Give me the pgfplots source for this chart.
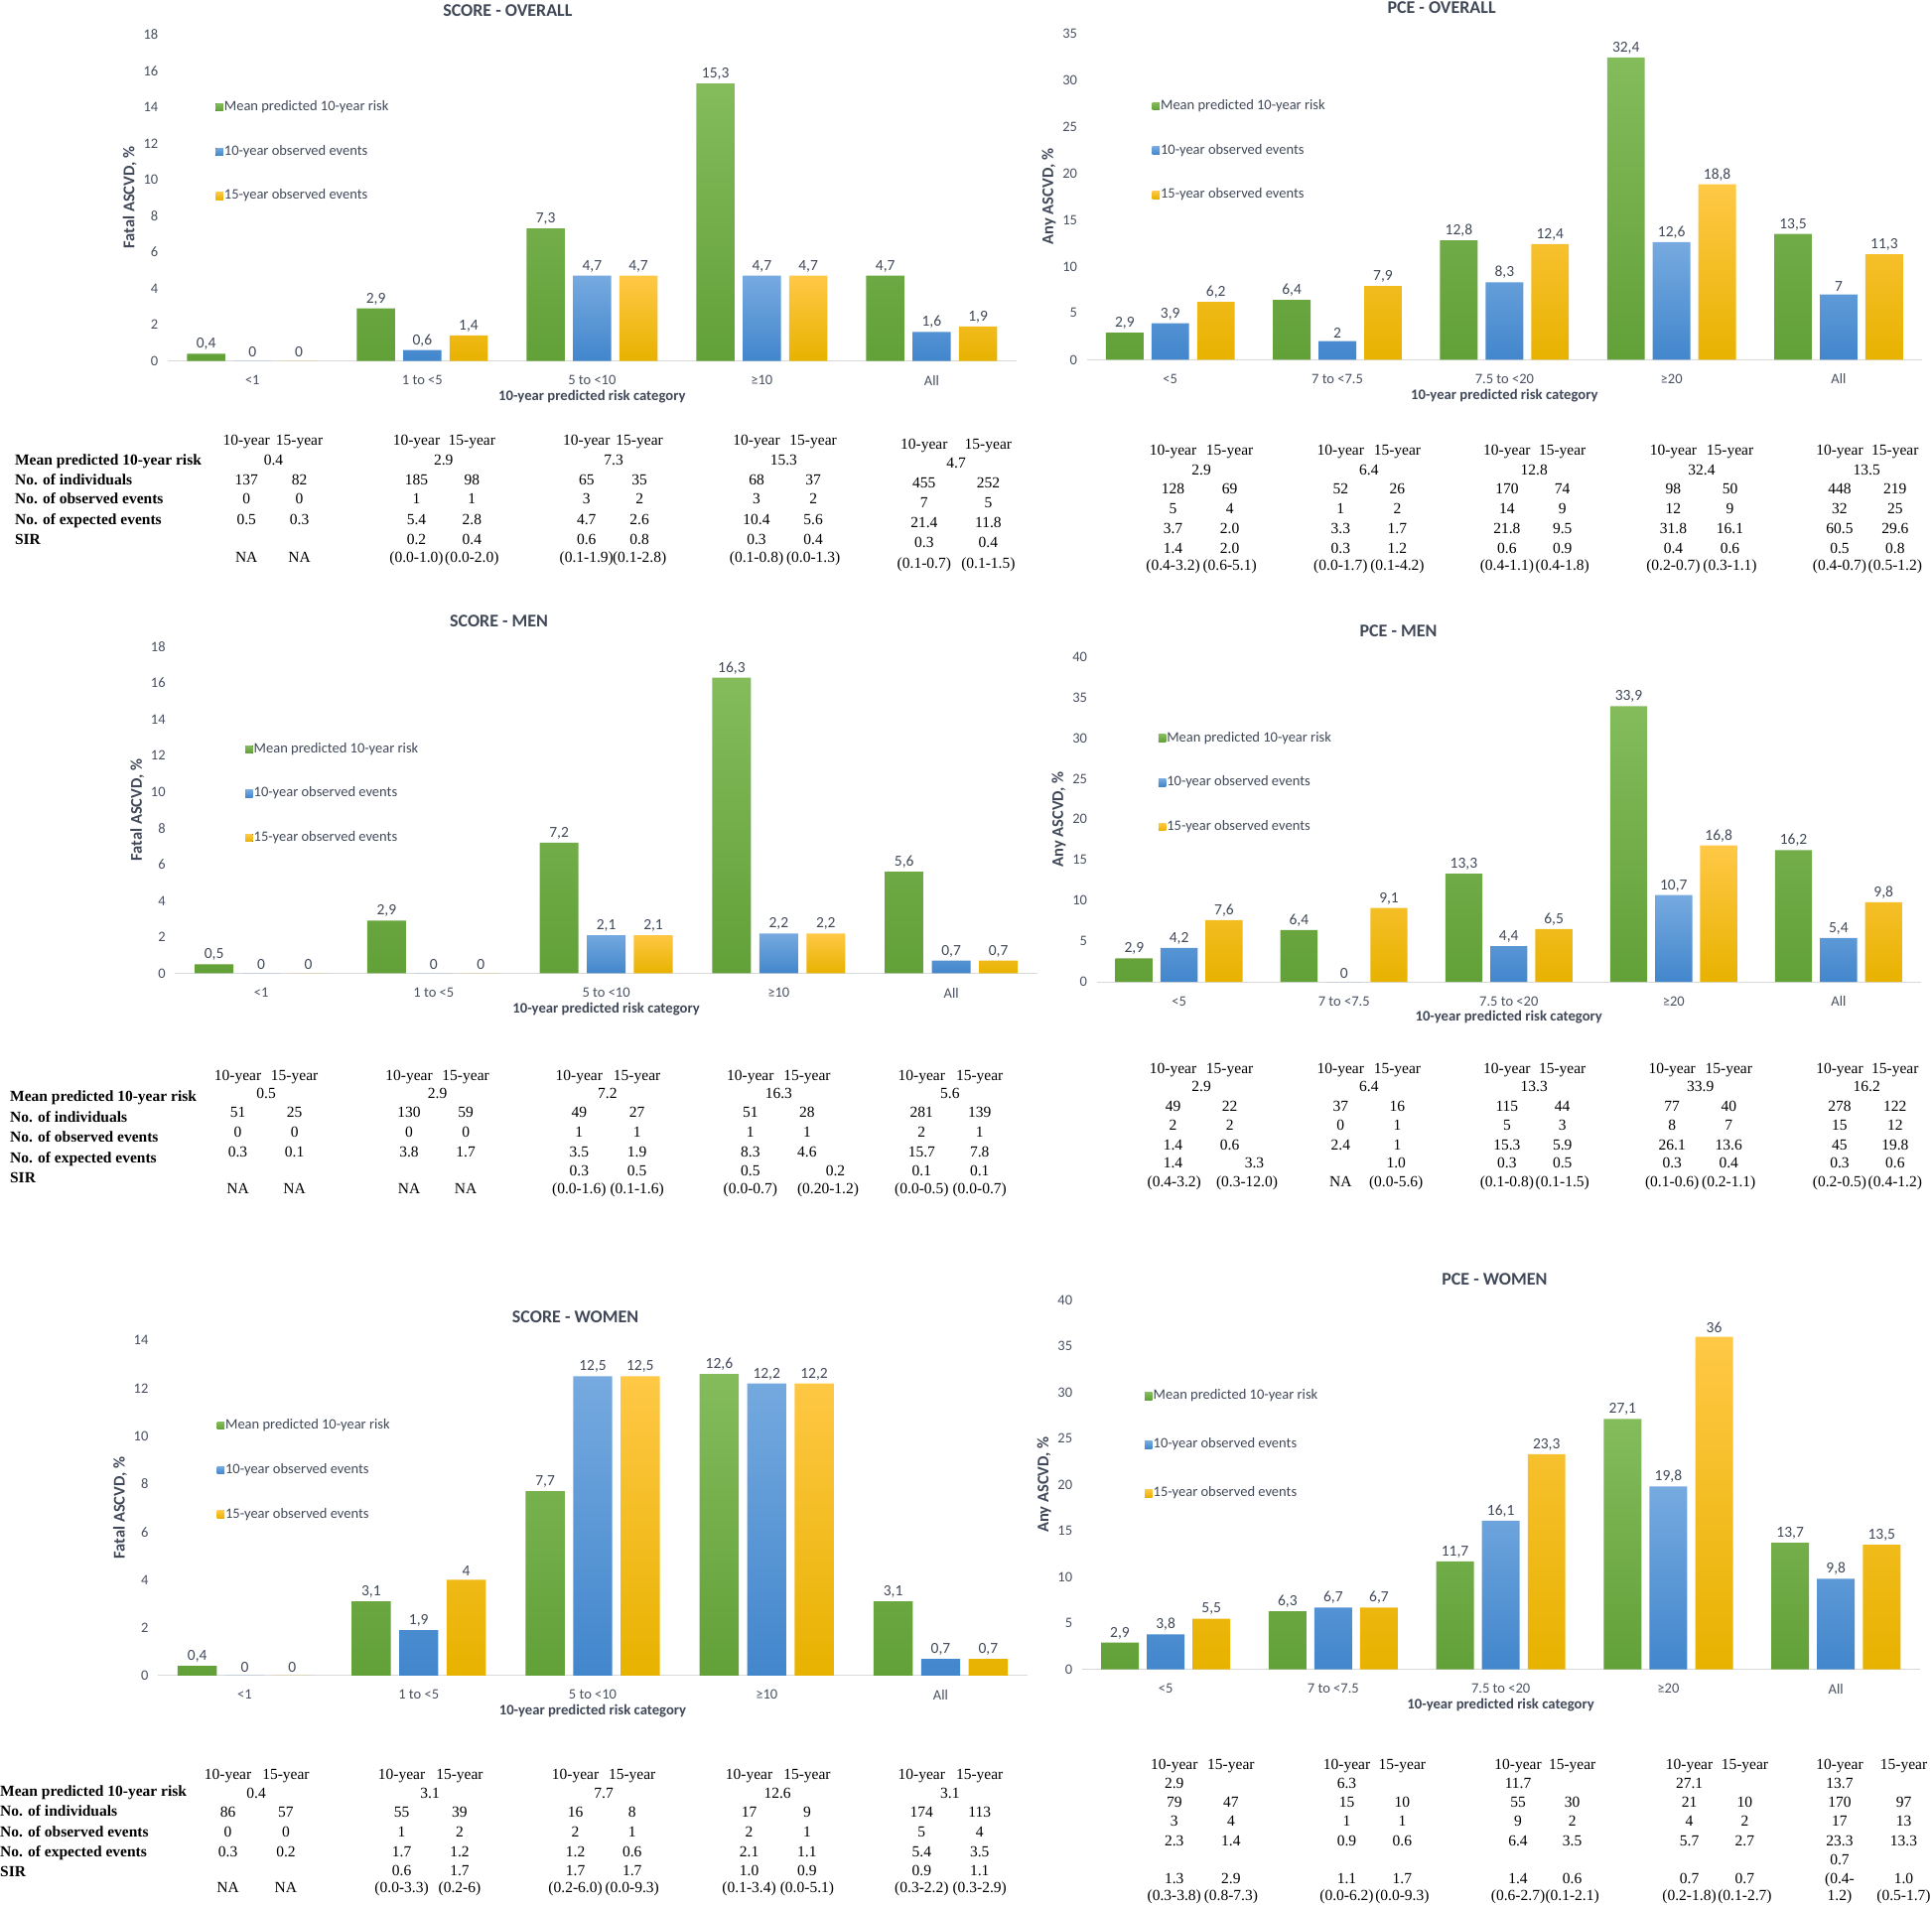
\documentclass[border=0pt]{standalone}
\usepackage{fontspec}
\setmainfont{Carlito}
\newfontfamily\tnr{Liberation Serif}
\usepackage{pgfplots}
\pgfplotsset{compat=1.18}

\definecolor{gT}{RGB}{132,188,92}
\definecolor{gB}{RGB}{98,160,56}
\definecolor{bT}{RGB}{118,170,224}
\definecolor{bB}{RGB}{66,134,204}
\definecolor{yT}{RGB}{255,200,70}
\definecolor{yB}{RGB}{232,178,0}
\definecolor{txt}{RGB}{72,80,96}
\definecolor{dark}{RGB}{64,72,88}
\definecolor{axl}{RGB}{217,217,217}

\pgfplotsset{
  panel/.style={
    scale only axis, anchor=south west,
    xmin=-0.5, xmax=4.5, ymin=0,
    xtick={0,...,4},
    axis x line*=bottom, axis y line*=left,
    x axis line style={draw=axl, line width=0.8pt},
    y axis line style={draw=none},
    major tick length=0pt,
    tick style={draw=none},
    ticklabel style={font=\fontsize{14.5}{16}\selectfont, text=txt},
    yticklabel style={xshift=-6pt},
    xticklabel style={yshift=-11pt},
    /pgf/number format/assume math mode=true,
    /pgf/number format/use comma,
    xlabel={10-year predicted risk category},
    xlabel style={font=\fontsize{14.7}{16}\selectfont\bfseries, text=dark, yshift=2pt},
    ylabel style={font=\fontsize{16.5}{18}\selectfont\bfseries, text=dark},
    title style={font=\fontsize{18}{20}\selectfont\bfseries, text=dark, at={(0.5,1)}, anchor=center},
    nodes near coords,
    every node near coord/.append style={font=\fontsize{15.5}{17}\selectfont, text=dark},
    legend cell align=left,
    legend style={draw=none, fill=none, at={(0,1)}, anchor=north west, inner sep=0pt,
      font=\fontsize{14.5}{16}\selectfont, text=dark,
      nodes={inner sep=1pt, text height=10pt, text depth=3pt}},
    legend image code/.code={\fill[##1] (0pt,-3.75pt) rectangle (7.5pt,3.75pt);},
  },
  gbar/.style={ybar, bar width=0.225, bar shift=-0.273, draw=none, top color=gT, bottom color=gB,
    every node near coord/.append style={shift={(axis direction cs:-0.273,0)}}},
  bbar/.style={ybar, bar width=0.225, bar shift=0, draw=none, top color=bT, bottom color=bB},
  obar/.style={ybar, bar width=0.225, bar shift=0.273, draw=none, top color=yT, bottom color=yB,
    every node near coord/.append style={shift={(axis direction cs:0.273,0)}}},
}

\tikzset{tbl/.style={font=\tnr\fontsize{15.5}{18}\selectfont, inner sep=0pt, anchor=center, text height=10.5pt, text depth=0pt},
  tlab/.style={tbl, anchor=west, font=\tnr\fontsize{15.5}{18}\selectfont\bfseries}}
\newcommand{\trow}[2]{\foreach \x/\t in {#2} {\node[tbl] at ({\x*1.2411pt},{1919pt-#1*1.2411pt}) {\t};}}
\newcommand{\tlabs}[6]{%
  \node[tlab] at ({#1*1.2411pt},{1919pt-#2*1.2411pt}) {Mean predicted 10-year risk};
  \node[tlab] at ({#1*1.2411pt},{1919pt-#3*1.2411pt}) {No. of individuals};
  \node[tlab] at ({#1*1.2411pt},{1919pt-#4*1.2411pt}) {No. of observed events};
  \node[tlab] at ({#1*1.2411pt},{1919pt-#5*1.2411pt}) {No. of expected events};
  \node[tlab] at ({#1*1.2411pt},{1919pt-#6*1.2411pt}) {SIR};}

\begin{document}
\begin{tikzpicture}
\path[use as bounding box] (0pt,0pt) rectangle (1946pt,1919pt);

% ---------------- SCORE - OVERALL
\begin{axis}[panel, at={(168.8pt,1555.4pt)}, width=855.1pt, height=328.9pt,
  ymax=18, ytick={0,2,...,18},
  xticklabels={<1,1 to <5,5 to <10,≥10,All},
  ylabel={Fatal ASCVD, \%}, title={SCORE - OVERALL},
  title style={xshift=-85pt, yshift=18.5pt},
  legend style={xshift=48.4pt, yshift=-65.7pt, row sep=29.7pt}]
\addplot[gbar] coordinates {(0,0.4) (1,2.9) (2,7.3) (3,15.3) (4,4.7)};
\addplot[bbar] coordinates {(0,0) (1,0.6) (2,4.7) (3,4.7) (4,1.6)};
\addplot[obar] coordinates {(0,0) (1,1.4) (2,4.7) (3,4.7) (4,1.9)};
\legend{Mean predicted 10-year risk,10-year observed events,15-year observed events}
\end{axis}

% ---------------- PCE - OVERALL
\begin{axis}[panel, at={(1094.6pt,1556.6pt)}, width=841.5pt, height=328.9pt,
  ymax=35, ytick={0,5,...,35},
  xticklabels={<5,7 to <7.5,7.5 to <20,≥20,All},
  ylabel={Any ASCVD, \%}, title={PCE - OVERALL},
  title style={xshift=-63.3pt, yshift=20pt},
  legend style={xshift=65.8pt, yshift=-65.7pt, row sep=29.7pt}]
\addplot[gbar] coordinates {(0,2.9) (1,6.4) (2,12.8) (3,32.4) (4,13.5)};
\addplot[bbar] coordinates {(0,3.9) (1,2) (2,8.3) (3,12.6) (4,7)};
\addplot[obar] coordinates {(0,6.2) (1,7.9) (2,12.4) (3,18.8) (4,11.3)};
\legend{Mean predicted 10-year risk,10-year observed events,15-year observed events}
\end{axis}

% ---------------- SCORE - MEN
\begin{axis}[panel, at={(176.2pt,938.5pt)}, width=868.8pt, height=328.9pt,
  ymax=18, ytick={0,2,...,18},
  xticklabels={<1,1 to <5,5 to <10,≥10,All},
  ylabel={Fatal ASCVD, \%}, title={SCORE - MEN},
  title style={xshift=-108pt, yshift=19.8pt},
  legend style={xshift=70.8pt, yshift=-95.5pt, row sep=29.7pt}]
\addplot[gbar] coordinates {(0,0.5) (1,2.9) (2,7.2) (3,16.3) (4,5.6)};
\addplot[bbar] coordinates {(0,0) (1,0) (2,2.1) (3,2.2) (4,0.7)};
\addplot[obar] coordinates {(0,0) (1,0) (2,2.1) (3,2.2) (4,0.7)};
\legend{Mean predicted 10-year risk,10-year observed events,15-year observed events}
\end{axis}

% ---------------- PCE - MEN
\begin{axis}[panel, at={(1104.6pt,929.8pt)}, width=830.3pt, height=327.7pt,
  ymax=40, ytick={0,5,...,40},
  xticklabels={<5,7 to <7.5,7.5 to <20,≥20,All},
  ylabel={Any ASCVD, \%}, title={PCE - MEN},
  title style={xshift=-111.2pt, yshift=19.8pt},
  legend style={xshift=62pt, yshift=-74.4pt, row sep=29.7pt}]
\addplot[gbar] coordinates {(0,2.9) (1,6.4) (2,13.3) (3,33.9) (4,16.2)};
\addplot[bbar] coordinates {(0,4.2) (1,0) (2,4.4) (3,10.7) (4,5.4)};
\addplot[obar] coordinates {(0,7.6) (1,9.1) (2,6.5) (3,16.8) (4,9.8)};
\legend{Mean predicted 10-year risk,10-year observed events,15-year observed events}
\end{axis}

% ---------------- SCORE - WOMEN
\begin{axis}[panel, at={(158.9pt,231.1pt)}, width=876.2pt, height=337.6pt,
  ymax=14, ytick={0,2,...,14},
  xticklabels={<1,1 to <5,5 to <10,≥10,All},
  ylabel={Fatal ASCVD, \%}, title={SCORE - WOMEN},
  title style={xshift=-17.4pt, yshift=17.3pt},
  legend style={xshift=59.5pt, yshift=-78.2pt, row sep=29.7pt}]
\addplot[gbar] coordinates {(0,0.4) (1,3.1) (2,7.7) (3,12.6) (4,3.1)};
\addplot[bbar] coordinates {(0,0) (1,1.9) (2,12.5) (3,12.2) (4,0.7)};
\addplot[obar] coordinates {(0,0) (1,4) (2,12.5) (3,12.2) (4,0.7)};
\legend{Mean predicted 10-year risk,10-year observed events,15-year observed events}
\end{axis}

% ---------------- PCE - WOMEN
\begin{axis}[panel, at={(1089.7pt,237.3pt)}, width=843.9pt, height=372.3pt,
  ymax=40, ytick={0,5,...,40},
  xticklabels={<5,7 to <7.5,7.5 to <20,≥20,All},
  ylabel={Any ASCVD, \%}, title={PCE - WOMEN},
  title style={xshift=-6.2pt, yshift=15pt},
  legend style={xshift=63.3pt, yshift=-89.3pt, row sep=34pt}]
\addplot[gbar] coordinates {(0,2.9) (1,6.3) (2,11.7) (3,27.1) (4,13.7)};
\addplot[bbar] coordinates {(0,3.8) (1,6.7) (2,16.1) (3,19.8) (4,9.8)};
\addplot[obar] coordinates {(0,5.5) (1,6.7) (2,23.3) (3,36) (4,13.5)};
\legend{Mean predicted 10-year risk,10-year observed events,15-year observed events}
\end{axis}

% ================= tables (positions in 1568-wide units)
% table 1
\tlabs{12}{373}{389}{405}{422}{438}
\trow{357}{200/10-year,243/15-year,338/10-year,383/15-year,476/10-year,519/15-year,614/10-year,660/15-year}
\trow{360}{750/10-year,802/15-year}
\trow{373}{222/0.4,360/2.9,498/7.3,636/15.3}
\trow{376}{776/4.7}
\trow{389}{200/137,243/82,338/185,383/98,476/65,519/35,614/68,660/37}
\trow{392}{750/455,802/252}
\trow{405}{200/0,243/0,338/1,383/1,476/3,519/2,614/3,660/2}
\trow{408}{750/7,802/5}
\trow{422}{200/0.5,243/0.3,338/5.4,383/2.8,476/4.7,519/2.6,614/10.4,660/5.6}
\trow{424}{750/21.4,802/11.8}
\trow{438}{338/0.2,383/0.4,476/0.6,519/0.8,614/0.3,660/0.4}
\trow{440}{750/0.3,802/0.4}
\trow{452}{200/NA,243/NA,338/{(0.0-1.0)},383/{(0.0-2.0)},476/{(0.1-1.9)},519/{(0.1-2.8)},614/{(0.1-0.8)},660/{(0.0-1.3)}}
\trow{457}{750/{(0.1-0.7)},802/{(0.1-1.5)}}

% table 2
\trow{365}{952/10-year,998/15-year,1088/10-year,1134/15-year,1223/10-year,1268/15-year,1358/10-year,1404/15-year,1493/10-year,1538/15-year}
\trow{381}{975/2.9,1111/6.4,1245/12.8,1381/32.4,1515/13.5}
\trow{397}{952/128,998/69,1088/52,1134/26,1223/170,1268/74,1358/98,1404/50,1493/448,1538/219}
\trow{413}{952/5,998/4,1088/1,1134/2,1223/14,1268/9,1358/12,1404/9,1493/32,1538/25}
\trow{429}{952/3.7,998/2.0,1088/3.3,1134/1.7,1223/21.8,1268/9.5,1358/31.8,1404/16.1,1493/60.5,1538/29.6}
\trow{445}{952/1.4,998/2.0,1088/0.3,1134/1.2,1223/0.6,1268/0.9,1358/0.4,1404/0.6,1493/0.5,1538/0.8}
\trow{459}{952/{(0.4-3.2)},998/{(0.6-5.1)},1088/{(0.0-1.7)},1134/{(0.1-4.2)},1223/{(0.4-1.1)},1268/{(0.4-1.8)},1358/{(0.2-0.7)},1404/{(0.3-1.1)},1493/{(0.4-0.7)},1538/{(0.5-1.2)}}

% table 3
\tlabs{8}{890}{907}{923}{940}{956}
\trow{873}{193/10-year,239/15-year,332/10-year,378/15-year,470/10-year,517/15-year,609/10-year,655/15-year,748/10-year,795/15-year}
\trow{887}{216/0.5,355/2.9,493/7.2,632/16.3,771/5.6}
\trow{903}{193/51,239/25,332/130,378/59,470/49,517/27,609/51,655/28,748/281,795/139}
\trow{919}{193/0,239/0,332/0,378/0,470/1,517/1,609/1,655/1,748/2,795/1}
\trow{935}{193/0.3,239/0.1,332/3.8,378/1.7,470/3.5,517/1.9,609/8.3,655/4.6,748/15.7,795/7.8}
\trow{950}{470/0.3,517/0.5,609/0.5,678/0.2,748/0.1,795/0.1}
\trow{965}{193/NA,239/NA,332/NA,378/NA,470/{(0.0-1.6)},517/{(0.1-1.6)},609/{(0.0-0.7)},672/{(0.20-1.2)},748/{(0.0-0.5)},795/{(0.0-0.7)}}

% table 4
\trow{867}{952/10-year,998/15-year,1088/10-year,1134/15-year,1223/10-year,1268/15-year,1357/10-year,1403/15-year,1493/10-year,1538/15-year}
\trow{882}{975/2.9,1111/6.4,1245/13.3,1380/33.9,1515/16.2}
\trow{898}{952/49,998/22,1088/37,1134/16,1223/115,1268/44,1357/77,1403/40,1493/278,1538/122}
\trow{913}{952/2,998/2,1088/0,1134/1,1223/5,1268/3,1357/8,1403/7,1493/15,1538/12}
\trow{929}{952/1.4,998/0.6,1088/2.4,1134/1,1223/15.3,1268/5.9,1357/26.1,1403/13.6,1493/45,1538/19.8}
\trow{944}{952/1.4,1018/3.3,1133/1.0,1223/0.3,1268/0.5,1357/0.3,1403/0.4,1493/0.3,1538/0.6}
\trow{959}{953/{(0.4-3.2)},1012/{(0.3-12.0)},1088/NA,1133/{(0.0-5.6)},1223/{(0.1-0.8)},1268/{(0.1-1.5)},1357/{(0.1-0.6)},1403/{(0.2-1.1)},1493/{(0.2-0.5)},1538/{(0.4-1.2)}}

% table 5
\tlabs{0}{1454}{1470}{1487}{1503}{1519}
\trow{1440}{185/10-year,232/15-year,326/10-year,373/15-year,467/10-year,513/15-year,608/10-year,655/15-year,748/10-year,795/15-year}
\trow{1455}{208/0.4,349/3.1,490/7.7,631/12.6,771/3.1}
\trow{1471}{185/86,232/57,326/55,373/39,467/16,513/8,608/17,655/9,748/174,795/113}
\trow{1487}{185/0,232/0,326/1,373/2,467/2,513/1,608/2,655/1,748/5,795/4}
\trow{1503}{185/0.3,232/0.2,326/1.7,373/1.2,467/1.2,513/0.6,608/2.1,655/1.1,748/5.4,795/3.5}
\trow{1518}{326/0.6,373/1.7,467/1.7,513/1.7,608/1.0,655/0.9,748/0.9,795/1.1}
\trow{1532}{185/NA,232/NA,326/{(0.0-3.3)},373/{(0.2-6)},467/{(0.2-6.0)},513/{(0.0-9.3)},608/{(0.1-3.4)},655/{(0.0-5.1)},748/{(0.3-2.2)},795/{(0.3-2.9)}}

% table 6
\trow{1432}{953/10-year,999/15-year,1093/10-year,1138/15-year,1232/10-year,1276/15-year,1371/10-year,1416/15-year,1493/10-year,1545/15-year}
\trow{1447}{953/2.9,1093/6.3,1232/11.7,1371/27.1,1493/13.7}
\trow{1463}{953/79,999/47,1093/15,1138/10,1232/55,1276/30,1371/21,1416/10,1493/170,1545/97}
\trow{1478}{953/3,999/4,1093/1,1138/1,1232/9,1276/2,1371/4,1416/2,1493/17,1545/13}
\trow{1494}{953/2.3,999/1.4,1093/0.9,1138/0.6,1232/6.4,1276/3.5,1371/5.7,1416/2.7,1493/23.3,1545/13.3}
\trow{1509}{1493/0.7}
\trow{1525}{953/1.3,999/2.9,1093/1.1,1138/1.7,1232/1.4,1276/0.6,1371/0.7,1416/0.7,1493/{(0.4-},1545/1.0}
\trow{1538}{953/{(0.3-3.8)},999/{(0.8-7.3)},1093/{(0.0-6.2)},1138/{(0.0-9.3)},1232/{(0.6-2.7)},1276/{(0.1-2.1)},1371/{(0.2-1.8)},1416/{(0.1-2.7)},1493/{1.2)},1545/{(0.5-1.7)}}
\end{tikzpicture}
\end{document}
